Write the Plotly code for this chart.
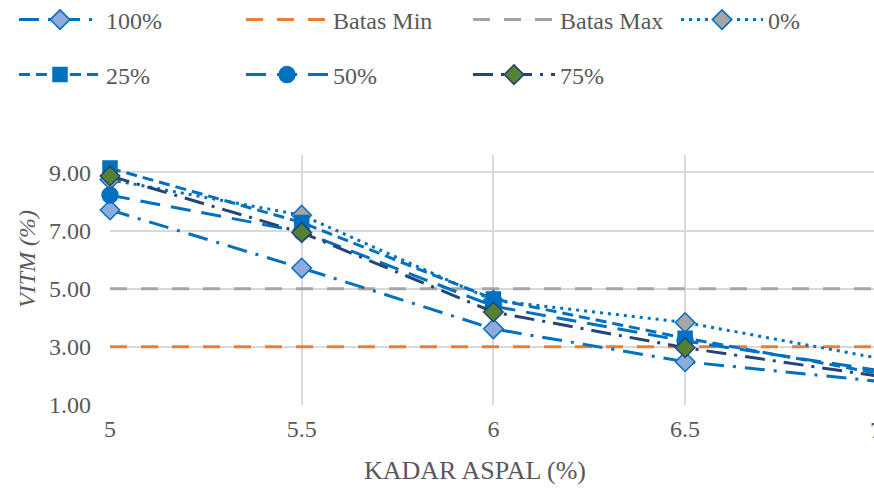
import plotly.graph_objects as go

kadar = [5, 5.5, 6, 6.5, 7]
x_ticks = ["5", "5.5", "6", "6.5"]
y_ticks = [1, 3, 5, 7, 9]

v100 = [7.71, 5.71, 3.62, 2.49, 1.82]
v0 = [8.75, 7.53, 4.60, 3.84, 2.62]
v25 = [9.15, 7.28, 4.65, 3.30, 2.10]
v50 = [8.22, 6.96, 4.40, 3.20, 2.20]
v75 = [8.88, 6.93, 4.20, 2.97, 2.00]
batas_min = [3, 3, 3, 3, 3]
batas_max = [5, 5, 5, 5, 5]

BLUE = "#0070C0"
NAVY = "#264478"
FONT = "Liberation Serif"
TXT = "#595959"

fig = go.Figure()

def add(name, y, color, dash, legend, rank, symbol=None, mfill=None, mline=None, msize=13):
    kw = dict(x=kadar, y=y, name=name, legend=legend, legendrank=rank, cliponaxis=False,
              line=dict(color=color, width=3, dash=dash))
    if symbol:
        kw["mode"] = "lines+markers"
        kw["marker"] = dict(symbol=symbol, size=msize, color=mfill,
                            line=dict(color=mline, width=1.5))
    else:
        kw["mode"] = "lines"
    fig.add_trace(go.Scatter(**kw))

add("Batas Min", batas_min, "#ED7D31", "17px,14px", "legend", 2)
add("Batas Max", batas_max, "#A5A5A5", "17px,14px", "legend", 3)
add("100%", v100, BLUE, "20px,9px,3px,9px", "legend", 1, "diamond", "#8FAADC", BLUE, 15)
add("0%", v0, BLUE, "3px,5px", "legend3", 4, "diamond", "#A5A5A5", BLUE, 15)
add("25%", v25, BLUE, "11px,6px", "legend2", 5, "square", BLUE, BLUE, 14)
add("50%", v50, BLUE, "20px,11px", "legend2", 6, "circle", BLUE, BLUE, 16)
add("75%", v75, NAVY, "20px,8px,3px,8px", "legend2", 7, "diamond", "#548235", NAVY, 15)

leg = dict(orientation="h", xref="container", yref="container", xanchor="left",
           yanchor="middle", font=dict(family=FONT, size=24, color=TXT),
           itemwidth=82, entrywidth=130, entrywidthmode="pixels",
           bgcolor="rgba(0,0,0,0)", tracegroupgap=0)

fig.update_layout(
    width=874, height=488,
    margin=dict(l=110, r=0, t=155, b=83),
    paper_bgcolor="white", plot_bgcolor="white",
    font=dict(family=FONT, size=24, color=TXT),
    legend=dict(leg, x=14 / 874, y=1 - 20 / 488),
    legend2=dict(leg, x=14 / 874, y=1 - 75 / 488),
    legend3=dict(leg, x=676 / 874, y=1 - 20 / 488),
    xaxis=dict(range=[5, 6.9927], tickvals=kadar[:4], ticktext=x_ticks,
               showgrid=True, gridcolor="#D9D9D9", gridwidth=1.5,
               zeroline=False, ticks="", ticklabelstandoff=7,
               tickfont=dict(family=FONT, size=24, color=TXT)),
    yaxis=dict(range=[1, 9.6], tickvals=y_ticks, tickformat=".2f",
               showgrid=True, gridcolor="#D9D9D9", gridwidth=1.5,
               zeroline=False, ticks="", ticklabelstandoff=18,
               tickfont=dict(family=FONT, size=24, color=TXT)),
    annotations=[
        dict(text="7", xref="paper", yref="paper", x=(876 - 110) / 764, y=-25 / 250,
             showarrow=False, xanchor="center", yanchor="middle",
             font=dict(family=FONT, size=24, color=TXT)),
        dict(text="KADAR ASPAL (%)", xref="paper", yref="paper", x=(475 - 110) / 764,
             y=-65 / 250, showarrow=False, xanchor="center", yanchor="middle",
             font=dict(family=FONT, size=26, color=TXT)),
        dict(text="<i>VITM (%)</i>", xref="paper", yref="paper", x=(27 - 110) / 764,
             y=(405 - 259) / 250, showarrow=False, textangle=-90,
             xanchor="center", yanchor="middle",
             font=dict(family=FONT, size=24, color=TXT)),
    ],
)

fig.write_html("out.html")
